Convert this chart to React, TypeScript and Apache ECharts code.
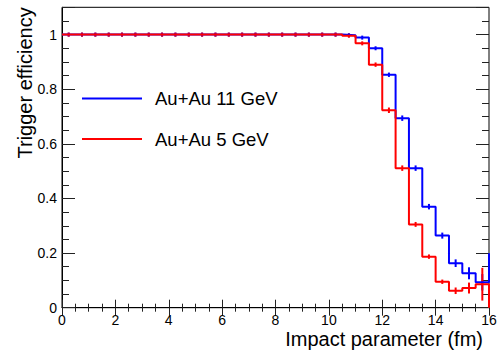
import React, { useEffect, useRef } from "react";
import * as echarts from "echarts";

// Bin edges of the histograms (fm)
const BIN_EDGES = [
  0, 0.5, 1, 1.5, 2, 2.5, 3, 3.5, 4, 4.5, 5, 5.5, 6, 6.5, 7, 7.5, 8, 8.5, 9, 9.5,
  10, 10.5, 11, 11.5, 12, 12.5, 13, 13.5, 14, 14.5, 15, 15.5, 16,
];

// Au+Au 11 GeV trigger efficiency per bin
const AUAU11 = [
  1, 1, 1, 1, 1, 1, 1, 1, 1, 1, 1, 1, 1, 1, 1, 1, 1, 1, 1, 1, 1,
  0.998, 0.989, 0.95, 0.853, 0.694, 0.511, 0.37, 0.264, 0.163, 0.126, 0.093,
];
const AUAU11_ERR = [
  0.001, 0.001, 0.001, 0.001, 0.001, 0.001, 0.001, 0.001, 0.001, 0.001, 0.001,
  0.001, 0.001, 0.001, 0.001, 0.001, 0.001, 0.001, 0.001, 0.001, 0.001,
  0.002, 0.004, 0.006, 0.008, 0.01, 0.01, 0.01, 0.011, 0.014, 0.022, 0.03,
];
const AUAU11_END = 0.199;

// Au+Au 5 GeV trigger efficiency per bin
const AUAU5 = [
  1, 1, 1, 1, 1, 1, 1, 1, 1, 1, 1, 1, 1, 1, 1, 1, 1, 1, 1, 1, 1,
  0.996, 0.968, 0.89, 0.723, 0.511, 0.305, 0.187, 0.095, 0.062, 0.072, 0.086,
];
const AUAU5_ERR = [
  0.006, 0.001, 0.001, 0.001, 0.001, 0.001, 0.001, 0.001, 0.001, 0.001, 0.001,
  0.001, 0.001, 0.001, 0.001, 0.001, 0.001, 0.001, 0.001, 0.001, 0.001,
  0.003, 0.005, 0.008, 0.01, 0.01, 0.009, 0.008, 0.008, 0.012, 0.02, 0.06,
];
const AUAU5_END = 0;

const SERIES_NAMES = ["Au+Au 11 GeV", "Au+Au 5 GeV"];
const X_TITLE = "Impact parameter (fm)";
const Y_TITLE = "Trigger efficiency";

const FONT = "Liberation Sans, Arial, Helvetica, sans-serif";
const BLUE = "#0000ff";
const RED = "#ff0000";

function stepPoints(values: number[], endVal: number) {
  const pts = values.map((v, i) => [BIN_EDGES[i], v]);
  pts.push([BIN_EDGES[BIN_EDGES.length - 1], endVal]);
  return pts;
}

function errPoints(values: number[], errs: number[]) {
  return values.map((v, i) => [(BIN_EDGES[i] + BIN_EDGES[i + 1]) / 2, v, errs[i]]);
}

function errSeries(values: number[], errs: number[], color: string) {
  return {
    type: "custom",
    xAxisIndex: 0,
    yAxisIndex: 0,
    data: errPoints(values, errs),
    encode: { x: 0, y: 1 },
    renderItem: (_params: any, api: any) => {
      const x = api.value(0);
      const y = api.value(1);
      const e = api.value(2);
      const p = api.coord([x, y]);
      let t = api.coord([x, y + e])[1];
      let b = api.coord([x, y - e])[1];
      if (b - t < 4) {
        t = p[1] - 2;
        b = p[1] + 2;
      }
      return {
        type: "line",
        shape: { x1: p[0], y1: t, x2: p[0], y2: b },
        style: { stroke: color, lineWidth: 2 },
      };
    },
  };
}

const isMajor = (v: number) => Math.abs(v / 0.2 - Math.round(v / 0.2)) < 1e-6;

export default function App() {
  const ref = useRef<HTMLDivElement>(null);
  useEffect(() => {
    if (!ref.current) return;
    const chart = echarts.init(ref.current, null, { renderer: "svg" });
    const tickStyle = { color: "#222", width: 1 };
    const baseY = { type: "value", min: 0, max: 1.1, splitLine: { show: false } };
    chart.setOption({
      animation: false,
      backgroundColor: "#ffffff",
      grid: {
        left: 62,
        right: 11,
        top: 7.3,
        bottom: 43.3,
        show: true,
        borderColor: "#000",
        borderWidth: 1,
        containLabel: false,
        outerBoundsMode: "none",
      },
      graphic: [
        {
          type: "text",
          x: 25,
          y: 7.3,
          rotation: Math.PI / 2,
          style: {
            text: Y_TITLE,
            fontSize: 20,
            fontFamily: FONT,
            fill: "#000",
            align: "right",
            verticalAlign: "middle",
          },
        },
      ],
      legend: {
        data: SERIES_NAMES,
        orient: "vertical",
        left: 82,
        top: 87.4,
        padding: 0,
        icon: "rect",
        itemWidth: 60,
        itemHeight: 2,
        itemGap: 18.6,
        textStyle: {
          fontSize: 18.5,
          fontFamily: FONT,
          color: "#000",
          lineHeight: 22,
          padding: [0, 0, 0, 8],
        },
      },
      xAxis: [
        {
          type: "value",
          min: 0,
          max: 16,
          interval: 2,
          position: "bottom",
          name: X_TITLE,
          nameLocation: "end",
          nameGap: -6,
          nameTextStyle: {
            fontSize: 20,
            fontFamily: FONT,
            color: "#000",
            align: "right",
            verticalAlign: "top",
            padding: [21, 0, 0, 0],
          },
          axisLine: { show: true, lineStyle: { color: "#000", width: 1 } },
          axisTick: { show: true, inside: true, length: 8, lineStyle: tickStyle },
          minorTick: { show: true, splitNumber: 4, length: 4, lineStyle: tickStyle },
          axisLabel: { fontSize: 14, fontFamily: FONT, color: "#000", margin: 5 },
          splitLine: { show: false },
        },
        {
          type: "value",
          min: 0,
          max: 16,
          interval: 2,
          position: "top",
          axisLine: { show: false },
          axisTick: { show: true, inside: true, length: 8, lineStyle: tickStyle },
          minorTick: { show: true, splitNumber: 4, length: 4, lineStyle: tickStyle },
          axisLabel: { show: false },
          splitLine: { show: false },
        },
      ],
      yAxis: [
        {
          ...baseY,
          interval: 0.05,
          position: "left",
          axisLine: { show: true, lineStyle: { color: "#000", width: 1 } },
          axisTick: { show: true, inside: true, length: 7, lineStyle: tickStyle },
          axisLabel: {
            fontSize: 14,
            fontFamily: FONT,
            color: "#000",
            margin: 5,
            formatter: (v: number) => (isMajor(v) && v < 1.05 ? String(Math.round(v * 10) / 10) : ""),
          },
        },
        {
          ...baseY,
          interval: 0.2,
          position: "left",
          axisLine: { show: false },
          axisTick: { show: true, inside: true, length: 13, lineStyle: tickStyle },
          axisLabel: { show: false },
        },
        {
          ...baseY,
          interval: 0.05,
          position: "right",
          axisLine: { show: false },
          axisTick: { show: true, inside: true, length: 7, lineStyle: tickStyle },
          axisLabel: { show: false },
        },
        {
          ...baseY,
          interval: 0.2,
          position: "right",
          axisLine: { show: false },
          axisTick: { show: true, inside: true, length: 13, lineStyle: tickStyle },
          axisLabel: { show: false },
        },
      ],
      series: [
        {
          name: SERIES_NAMES[0],
          type: "line",
          step: "end",
          xAxisIndex: 0,
          yAxisIndex: 0,
          data: stepPoints(AUAU11, AUAU11_END),
          showSymbol: false,
          color: BLUE,
          itemStyle: { color: BLUE },
          lineStyle: { color: BLUE, width: 2 },
        },
        errSeries(AUAU11, AUAU11_ERR, BLUE),
        {
          name: SERIES_NAMES[1],
          type: "line",
          step: "end",
          xAxisIndex: 0,
          yAxisIndex: 0,
          data: stepPoints(AUAU5, AUAU5_END),
          showSymbol: false,
          color: RED,
          itemStyle: { color: RED },
          lineStyle: { color: RED, width: 2 },
        },
        errSeries(AUAU5, AUAU5_ERR, RED),
      ],
    });
    return () => chart.dispose();
  }, []);
  return (
    <div
      ref={ref}
      style={{ position: "fixed", left: 0, top: 0, width: 500, height: 351, background: "#fff" }}
    />
  );
}
